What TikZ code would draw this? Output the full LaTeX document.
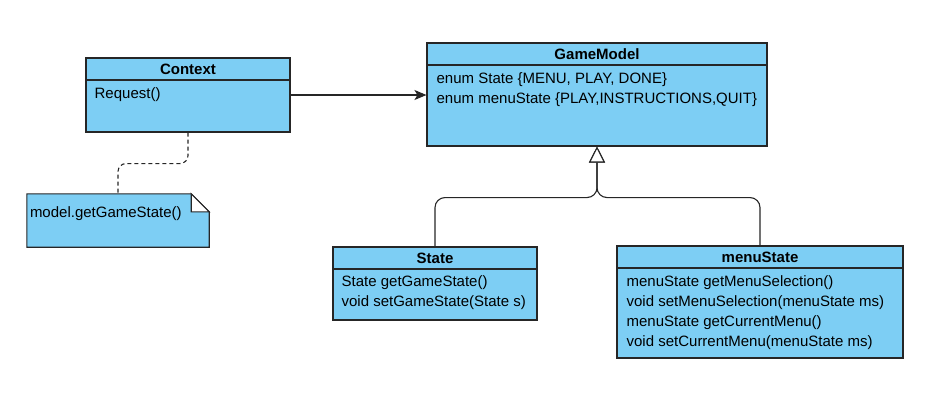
\documentclass[tikz,border=0pt]{standalone}
\usepackage{fontspec}
\setmainfont{Liberation Sans}
\usetikzlibrary{calc,positioning,arrows.meta}
\definecolor{umlblue}{RGB}{125,206,244}
\definecolor{umlline}{RGB}{38,38,38}
\newcommand{\umlsize}{\fontsize{15}{20}\selectfont}

\tikzset{
  classbox/.style={draw=umlline, fill=umlblue, rectangle, line width=1.1pt, inner sep=0pt},
  classtitle/.style={draw=umlline, rectangle, line width=1.1pt, minimum height=22pt, anchor=north, inner sep=0pt, font=\umlsize\bfseries},
  members/.style={anchor=north west, align=left, inner sep=0pt, font=\umlsize},
  notebox/.style={draw=umlline, fill=umlblue, line width=1.1pt, line join=miter},
  assoc/.style={draw=umlline, line width=1.1pt, -{Stealth[length=12pt,width=10pt,inset=3pt]}},
  inherit/.style={draw=umlline, line width=1.1pt, rounded corners=10pt, -{Triangle[length=16pt,width=16pt,fill=white,line width=1.1pt]}},
  anchorline/.style={draw=umlline, line width=1.1pt, dash pattern=on 4pt off 3pt, rounded corners=8pt}
}

\begin{document}
\begin{tikzpicture}[x=1pt, y=-1pt]
  \useasboundingbox (0,0) rectangle (950,402);

  % Context
  \node[classbox, minimum width=204pt, minimum height=74pt] (context) at (188,95) {};
  \node[classtitle, minimum width=204pt] (contexttitle) at (context.north) {Context};
  \node[members] (contextops) at ([shift={(9pt,-30pt)}]context.north west) {Request()};

  % GameModel
  \node[classbox, minimum width=340pt, minimum height=103pt] (gamemodel) at (597,94.5) {};
  \node[classtitle, minimum width=340pt] (gamemodeltitle) at (gamemodel.north) {GameModel};
  \node[members] (gamemodelattr) at ([shift={(10pt,-30pt)}]gamemodel.north west)
    {enum State \{MENU, PLAY, DONE\}\\enum menuState \{PLAY,INSTRUCTIONS,QUIT\}};

  % State
  \node[classbox, minimum width=204pt, minimum height=73pt] (state) at (435,283.5) {};
  \node[classtitle, minimum width=204pt] (statetitle) at (state.north) {State};
  \node[members] (stateops) at ([shift={(9pt,-29pt)}]state.north west)
    {State getGameState()\\void setGameState(State s)};

  % menuState
  \node[classbox, minimum width=286pt, minimum height=112pt] (menustate) at (760,302) {};
  \node[classtitle, minimum width=286pt] (menustatetitle) at (menustate.north) {menuState};
  \node[members] (menustateops) at ([shift={(10pt,-30pt)}]menustate.north west)
    {menuState getMenuSelection()\\void setMenuSelection(menuState ms)\\menuState getCurrentMenu()\\void setCurrentMenu(menuState ms)};

  % Note
  \node[minimum width=182pt, minimum height=53pt, inner sep=0pt] (note) at (118,220.5) {};
  \draw[notebox] (note.north west) -- ([xshift=-18pt]note.north east) -- ([yshift=-18pt]note.north east)
    -- (note.south east) -- (note.south west) -- cycle;
  \draw[notebox, fill=white] ([xshift=-18pt]note.north east) -- ([shift={(-18pt,-18pt)}]note.north east)
    -- ([yshift=-18pt]note.north east) -- cycle;
  \node[members] (notetext) at ([shift={(3pt,-13pt)}]note.north west) {model.getGameState()};

  % Connectors
  \draw[assoc] (context.east) -- (context.east -| gamemodel.west);
  \draw[anchorline] (context.south) -- ++(0,31) -| (note.north);
  \coordinate (fork) at ($(gamemodel.south)+(0,51)$);
  \draw[inherit] (state.north) |- (fork) -- (gamemodel.south);
  \draw[inherit] (menustate.north) |- (fork) -- (gamemodel.south);
\end{tikzpicture}
\end{document}
